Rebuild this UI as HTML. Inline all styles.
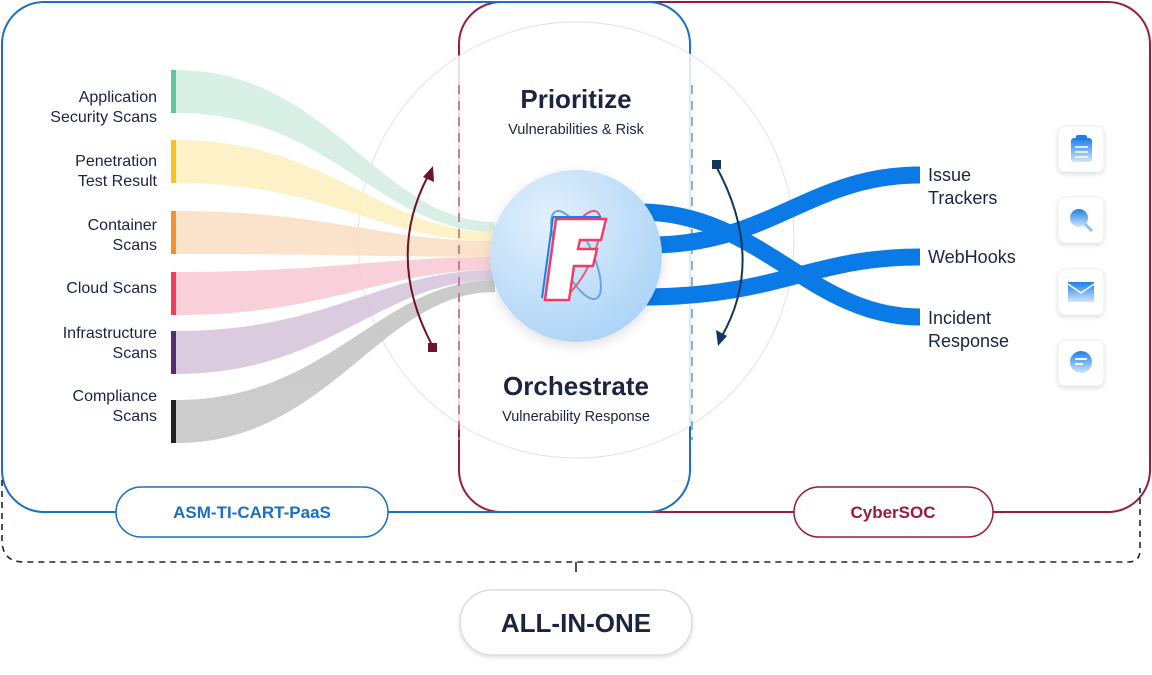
<!DOCTYPE html>
<html><head><meta charset="utf-8"><style>
html,body{margin:0;padding:0;background:#fff;}
svg{display:block;font-family:"Liberation Sans",sans-serif;}
</style></head><body>
<svg width="1152" height="675" viewBox="0 0 1152 675" xmlns="http://www.w3.org/2000/svg">
<defs>
<radialGradient id="lg" cx="0.35" cy="0.3" r="0.8"><stop offset="0" stop-color="#e3f0fc"/><stop offset="1" stop-color="#a9d2f7"/></radialGradient>
<linearGradient id="ig" x1="0" y1="0" x2="0" y2="1"><stop offset="0" stop-color="#1b7fe6"/><stop offset="1" stop-color="#cfe6fb"/></linearGradient>
<filter id="sh" x="-30%" y="-30%" width="160%" height="160%"><feDropShadow dx="0" dy="4" stdDeviation="6" flood-color="#000" flood-opacity="0.12"/></filter>
<filter id="sh2" x="-30%" y="-30%" width="160%" height="160%"><feDropShadow dx="0" dy="2" stdDeviation="2" flood-color="#000" flood-opacity="0.12"/></filter>
</defs>
<rect x="459" y="2" width="691" height="510" rx="42" fill="none" stroke="#9b1b3a" stroke-width="2"/>
<rect x="2" y="2" width="688" height="510" rx="42" fill="none" stroke="#1a6fc6" stroke-width="2"/>
<path d="M2,480 L2,540 Q2,562 24,562 L1128,562 Q1140,562 1140,550 L1140,488" fill="none" stroke="#1b2440" stroke-width="1.6" stroke-dasharray="6,5"/>
<line x1="576" y1="562" x2="576" y2="572" stroke="#1b2440" stroke-width="1.6"/>
<circle cx="576" cy="240" r="218" fill="#fff" fill-opacity="0.85" stroke="#e2e2e2" stroke-width="1"/>
<g opacity="0.9">
<path d="M176,70 C330,70 380,222 495,222 L495,232 C380,232 330,113 176,113Z" fill="#d5eee3"/>
<path d="M176,140 C330,140 380,232 495,232 L495,241 C380,241 330,183 176,183Z" fill="#fdf0c2"/>
<path d="M176,211 C330,211 380,241 495,241 L495,257 C380,257 330,254 176,254Z" fill="#fbe1c6"/>
<path d="M176,272 C330,272 380,257 495,257 L495,270 C380,270 330,315 176,315Z" fill="#f9cbd5"/>
<path d="M176,331 C330,331 380,270 495,270 L495,280 C380,280 330,374 176,374Z" fill="#d6c6dc"/>
<path d="M176,400 C330,400 380,280 495,280 L495,292 C380,292 330,443 176,443Z" fill="#c6c6c6"/>
</g>
<rect x="171" y="70" width="5" height="43" fill="#5dc79a"/>
<rect x="171" y="140" width="5" height="43" fill="#fcc419"/>
<rect x="171" y="211" width="5" height="43" fill="#f6922d"/>
<rect x="171" y="272" width="5" height="43" fill="#ef3e5c"/>
<rect x="171" y="331" width="5" height="43" fill="#5a2a6e"/>
<rect x="171" y="400" width="5" height="43" fill="#222"/>
<g font-size="16" fill="#1b2440" text-anchor="end">
<text x="157" y="102">Application</text><text x="157" y="122">Security Scans</text>
<text x="157" y="166">Penetration</text><text x="157" y="186">Test Result</text>
<text x="157" y="230">Container</text><text x="157" y="250">Scans</text>
<text x="157" y="293">Cloud Scans</text>
<text x="157" y="338">Infrastructure</text><text x="157" y="358">Scans</text>
<text x="157" y="401">Compliance</text><text x="157" y="421">Scans</text>
</g>
<line x1="459" y1="85" x2="459" y2="440" stroke="#c06a82" stroke-width="1.6" stroke-dasharray="9,7"/>
<line x1="692" y1="85" x2="692" y2="440" stroke="#6a9fd1" stroke-width="1.6" stroke-dasharray="9,7"/>
<g fill="none" stroke="#0a7be6" stroke-width="17">
<path d="M640,212 C760,212 810,317 920,317"/>
<path d="M650,245 C770,245 810,175 920,175"/>
<path d="M640,297 C780,297 810,257 920,257"/>
</g>
<path d="M433,347 Q385,258 428,176" fill="none" stroke="#6e1428" stroke-width="2"/>
<polygon points="433,166 434,182 423,177" fill="#6e1428"/>
<rect x="428" y="343" width="9" height="9" fill="#6e1428"/>
<path d="M716,166 Q766,258 722,336" fill="none" stroke="#12375f" stroke-width="2"/>
<polygon points="718,346 716,330 727,336" fill="#12375f"/>
<rect x="712" y="160" width="9" height="9" fill="#12375f"/>
<circle cx="576" cy="256" r="86" fill="url(#lg)" filter="url(#sh)"/>
<ellipse cx="576" cy="255" rx="16" ry="48" transform="rotate(-25 576 255)" fill="none" stroke="#6aa6e0" stroke-width="2"/>
<ellipse cx="576" cy="255" rx="16" ry="48" transform="rotate(25 576 255)" fill="none" stroke="#e85a7a" stroke-width="2"/>
<path d="M556,219 L606,219 L601,240 L580,240 L578,249 L597,249 L593,266 L574,266 L569,300 L545,300Z" fill="#fff" stroke="#f03e68" stroke-width="2.5"/>
<path d="M553,217 L601,217" stroke="#1b7fe6" stroke-width="2"/>
<path d="M553,217 L542,298" stroke="#1b7fe6" stroke-width="2"/>
<text x="576" y="108" text-anchor="middle" font-size="26" font-weight="bold" fill="#1b2440">Prioritize</text>
<text x="576" y="134" text-anchor="middle" font-size="14.5" fill="#1b2440">Vulnerabilities &amp; Risk</text>
<text x="576" y="395" text-anchor="middle" font-size="26" font-weight="bold" fill="#1b2440">Orchestrate</text>
<text x="576" y="421" text-anchor="middle" font-size="14.5" fill="#1b2440">Vulnerability Response</text>
<g font-size="18" fill="#1b2440">
<text x="928" y="181">Issue</text><text x="928" y="204">Trackers</text>
<text x="928" y="263">WebHooks</text>
<text x="928" y="324">Incident</text><text x="928" y="347">Response</text>
</g>
<g filter="url(#sh2)" fill="#fff" stroke="#eee">
<rect x="1058" y="126" width="46" height="46" rx="7"/>
<rect x="1058" y="197" width="46" height="46" rx="7"/>
<rect x="1058" y="269" width="46" height="46" rx="7"/>
<rect x="1058" y="340" width="46" height="46" rx="7"/>
</g>
<rect x="1071" y="138" width="21" height="24" rx="3" fill="url(#ig)"/>
<rect x="1076" y="135" width="11" height="5" rx="2" fill="#1b7fe6"/>
<g stroke="#fff" stroke-width="1.5"><line x1="1075" y1="147" x2="1088" y2="147"/><line x1="1075" y1="152" x2="1088" y2="152"/><line x1="1075" y1="157" x2="1088" y2="157"/></g>
<circle cx="1079" cy="218" r="9" fill="url(#ig)"/><line x1="1085" y1="224" x2="1092" y2="231" stroke="#8cc3f3" stroke-width="3"/>
<rect x="1068" y="282" width="26" height="20" fill="url(#ig)"/><path d="M1068,284 L1081,293 L1094,284" fill="none" stroke="#fff" stroke-width="1.5"/>
<circle cx="1081" cy="362" r="11" fill="url(#ig)"/><g stroke="#fff" stroke-width="1.8"><line x1="1075" y1="359" x2="1087" y2="359"/><line x1="1075" y1="364" x2="1083" y2="364"/></g>
<rect x="116" y="487" width="272" height="50" rx="25" fill="#fff" stroke="#1a6fc6" stroke-width="1.5"/>
<text x="252" y="518" text-anchor="middle" font-size="17" font-weight="bold" fill="#1a6fc6">ASM-TI-CART-PaaS</text>
<rect x="794" y="487" width="199" height="50" rx="25" fill="#fff" stroke="#9b1b3a" stroke-width="1.5"/>
<text x="893" y="518" text-anchor="middle" font-size="17" font-weight="bold" fill="#9b1b3a">CyberSOC</text>
<rect x="460" y="590" width="232" height="65" rx="32" fill="#fff" stroke="#d6d6d6" stroke-width="1.2" filter="url(#sh2)"/>
<text x="576" y="632" text-anchor="middle" font-size="26" font-weight="bold" fill="#1b2440">ALL-IN-ONE</text>
</svg>
</body></html>
